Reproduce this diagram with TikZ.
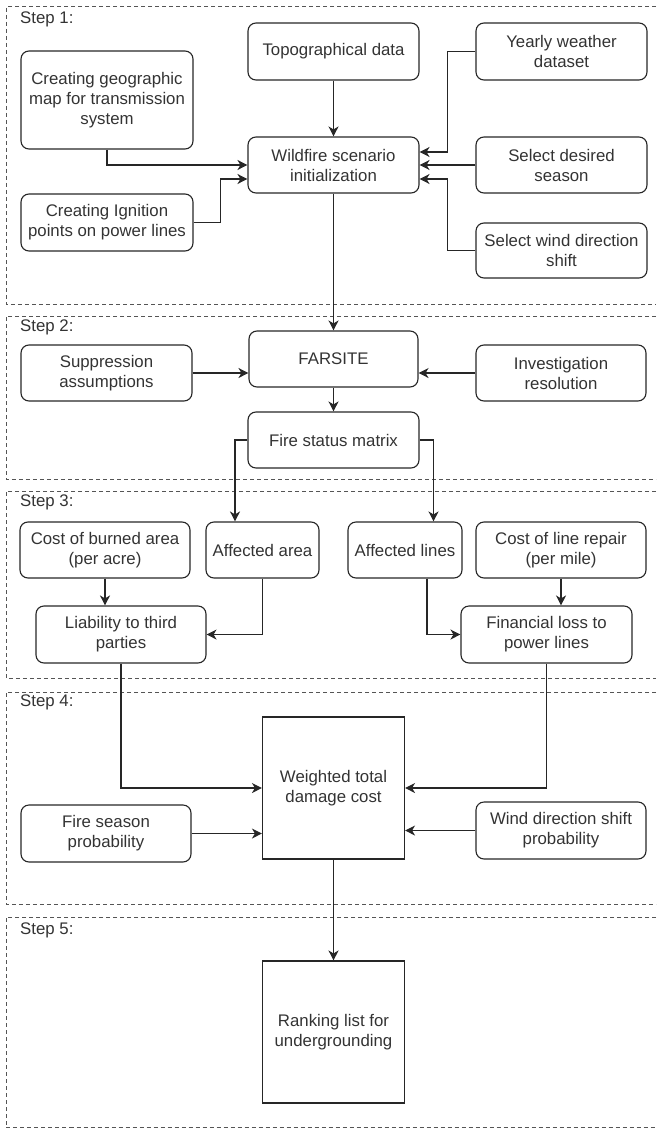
\documentclass[tikz,border=0pt]{standalone}
\usepackage{fontspec}
\setmainfont{Liberation Sans}
\usepackage{xcolor}
\usetikzlibrary{arrows.meta}
\definecolor{txtgray}{HTML}{333333}
\definecolor{framegray}{HTML}{555555}
\tikzset{
	block/.style={draw=black!85, line width=1.1pt, rounded corners=8pt, align=center,
			text=txtgray, inner sep=0pt, minimum height=57pt,
			font=\fontsize{16.8}{20}\selectfont},
	sqblock/.style={block, rounded corners=0pt, minimum width=142pt, minimum height=142pt},
	stage/.style={draw=framegray, line width=1pt, dash pattern=on 4pt off 3pt},
	steplabel/.style={anchor=west, text=txtgray, inner sep=0pt,
			font=\fontsize{16.8}{20}\selectfont},
	flow/.style={draw=black!85, line width=1.2pt, -{Stealth[length=10pt,width=10pt,inset=3pt]}}
}

\begin{document}
\begin{tikzpicture}[x=1pt, y=-1pt]
        \useasboundingbox (0, 0) rectangle (656, 1129);
        \draw[stage] (656, 7) -- (6, 7) -- (6, 304) -- (656, 304);
        \draw[stage] (656, 316) -- (6, 316) -- (6, 479) -- (656, 479);
        \draw[stage] (656, 491) -- (6, 491) -- (6, 678) -- (656, 678);
        \draw[stage] (656, 692) -- (6, 692) -- (6, 904) -- (656, 904);
        \draw[stage] (656, 917) -- (6, 917) -- (6, 1127.5) -- (656, 1127.5);
        \node[steplabel] (step_1) at (20, 19) {Step 1:};
        \node[steplabel] (step_2) at (20, 327) {Step 2:};
        \node[steplabel] (step_3) at (20, 502) {Step 3:};
        \node[steplabel] (step_4) at (20, 702) {Step 4:};
        \node[steplabel] (step_5) at (20, 930) {Step 5:};
        \node[block, minimum width=172pt, minimum height=98pt] (geo) at (107, 100) {Creating geographic\\map for transmission\\system};
        \node[block, minimum width=172pt] (ign) at (107, 222.5) {Creating Ignition\\points on power lines};
        \node[block, minimum width=171pt] (topo) at (333.5, 51.5) {Topographical data};
        \node[block, minimum width=171pt, minimum height=56pt] (init) at (333.5, 165) {Wildfire scenario\\initialization};
        \node[block, minimum width=171pt] (weather) at (561.5, 51.5) {Yearly weather\\dataset};
        \node[block, minimum width=171pt, minimum height=56pt] (season) at (561.5, 165) {Select desired\\season};
        \node[block, minimum width=171pt, minimum height=55pt] (wind) at (561.5, 250.5) {Select wind direction\\shift};
        \node[block, minimum width=169pt, minimum height=56pt] (farsite) at (333.5, 359) {FARSITE};
        \node[block, minimum width=171pt, minimum height=56pt] (supp) at (106.5, 373) {Suppression\\assumptions};
        \node[block, minimum width=170pt, minimum height=56pt] (invres) at (561, 373) {Investigation\\resolution};
        \node[block, minimum width=171pt, minimum height=56pt] (status) at (333.5, 440) {Fire status matrix};
        \node[block, minimum width=170pt, minimum height=56pt] (burncost) at (105, 550) {Cost of burned area\\(per acre)};
        \node[block, minimum width=113pt, minimum height=56pt] (area) at (262.5, 550) {Affected area};
        \node[block, minimum width=114pt, minimum height=56pt] (lines) at (405, 550) {Affected lines};
        \node[block, minimum width=170pt, minimum height=56pt] (repaircost) at (561, 550) {Cost of line repair\\(per mile)};
        \node[block, minimum width=170pt] (liability) at (121, 634.5) {Liability to third\\parties};
        \node[block, minimum width=171pt] (finloss) at (546.5, 634.5) {Financial loss to\\power lines};
        \node[sqblock] (weighted) at (333.5, 788) {Weighted total\\damage cost};
        \node[block, minimum width=170pt] (fireseason) at (106, 833.5) {Fire season\\probability};
        \node[block, minimum width=170pt] (windprob) at (561, 830.5) {Wind direction shift\\probability};
        \node[sqblock] (ranking) at (333.5, 1032) {Ranking list for\\undergrounding};
        \draw[flow] (geo.south) |- (init.west);
        \draw[flow] (ign.east) -- ++(27, 0) |- ([yshift=-14pt]init.west);
        \draw[flow] (topo) -- (init);
        \draw[flow] (weather.west) -- ++(-28, 0) |- ([yshift=13pt]init.east);
        \draw[flow] (season) -- (init);
        \draw[flow] (wind.west) -- ++(-28, 0) |- ([yshift=-14pt]init.east);
        \draw[flow] (init) -- (farsite);
        \draw[flow] (supp.east) -- (supp.east -| farsite.west);
        \draw[flow] (invres.west) -- (invres.west -| farsite.east);
        \draw[flow] (farsite) -- (status);
        \draw[flow] (status.west) -| ([xshift=-27.5pt]area.north);
        \draw[flow] (status.east) -| ([xshift=28.5pt]lines.north);
        \draw[flow] (burncost) -- (burncost |- liability.north);
        \draw[flow] (area.south) |- (liability.east);
        \draw[flow] ([xshift=22pt]lines.south) |- (finloss.west);
        \draw[flow] (repaircost) -- (repaircost |- finloss.north);
        \draw[flow] (liability.south) |- (weighted.west);
        \draw[flow] (finloss.south) |- (weighted.east);
        \draw[flow] (fireseason.east) -- (fireseason.east -| weighted.west);
        \draw[flow] (windprob.west) -- (windprob.west -| weighted.east);
        \draw[flow] (weighted) -- (ranking);
    \end{tikzpicture}
\end{document}
